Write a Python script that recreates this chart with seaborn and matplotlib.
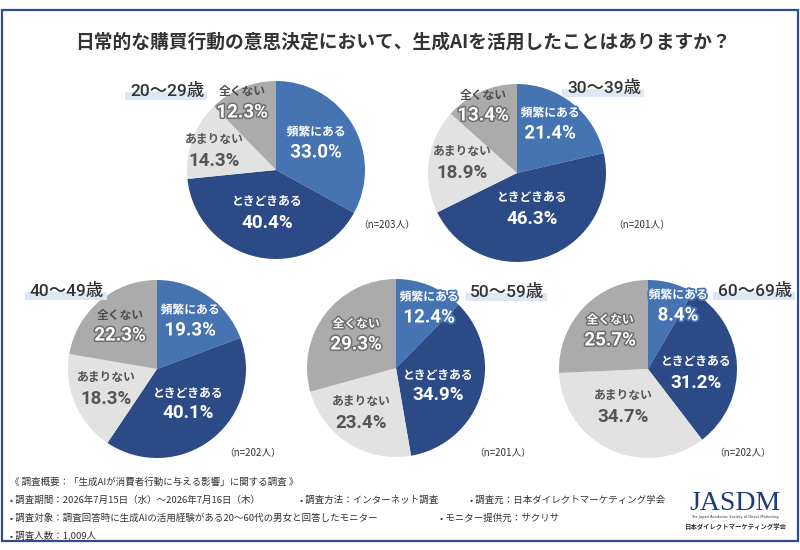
"""
Recreation of the JASDM survey chart: use of generative AI in everyday
purchase decisions, one pie per age group.
"""
import matplotlib
matplotlib.use("Agg")
import matplotlib.pyplot as plt
import matplotlib.patheffects as pe
from matplotlib.patches import Rectangle
import seaborn as sns

# ── Data ──────────────────────────────────────────────────────────────────────
AGE_GROUPS = ["20〜29歳", "30〜39歳", "40〜49歳", "50〜59歳", "60〜69歳"]
ANSWERS    = ["頻繁にある", "ときどきある", "あまりない", "全くない"]
FREQUENT   = [33.0, 21.4, 19.3, 12.4, 8.4]
SOMETIMES  = [40.4, 46.3, 40.1, 34.9, 31.2]
RARELY     = [14.3, 18.9, 18.3, 23.4, 34.7]
NEVER      = [12.3, 13.4, 22.3, 29.3, 25.7]
N_RESP     = [203, 201, 202, 201, 202]

TITLE = "日常的な購買行動の意思決定において、生成AIを活用したことはありますか？"
FOOTER_HEAD = "《 調査概要：「生成AIが消費者行動に与える影響」に関する調査 》"
FOOTER_ITEMS = [
    ["• 調査期間：2026年7月15日（水）〜2026年7月16日（木）",
     "• 調査方法：インターネット調査",
     "• 調査元：日本ダイレクトマーケティング学会"],
    ["• 調査対象：調査回答時に生成AIの活用経験がある20〜60代の男女と回答したモニター",
     "• モニター提供元：サクリサ"],
    ["• 調査人数：1,009人"],
]
LOGO_TEXT = "JASDM"
LOGO_SUB  = "The Japan Academic Society of Direct Marketing"
LOGO_JP   = "日本ダイレクトマーケティング学会"

# ── Layout (pixel coordinates, y measured from the top) ──────────────────────
W, H = 800, 550
PIE_CENTERS = [(276, 170), (517, 173), (157, 369), (396, 368), (648, 369)]
RADIUS = 89
# label block centre relative to the pie centre, one entry per answer
LABEL_OFFSETS = [
    [(40, -28), (-9, 42), (-62, -20), (-34, -68)],
    [(33, -50), (15, 35), (-55, -11), (-34, -68)],
    [(33, -49), (31, 34), (-51, 19), (-37, -44)],
    [(33, -61), (42, 17), (-35, 44), (-40, -34)],
    [(30, -64), (48, 3), (-25, 37), (-38, -39)],
]
AGE_LABEL_POS = [(130, 91), (567, 88), (30, 291), (470, 292), (718, 291)]
N_POS = [(387, 225), (642, 225), (253, 453), (503, 453), (743, 453)]
NEVER_NAME_OUTLINED = [False, False, False, True, True]

COLORS = sns.color_palette(["#4674b3", "#2c4a86", "#e2e2e2", "#ababab"])
JP = ["Noto Sans CJK JP", "DejaVu Sans"]
NUM = ["Roboto", "Noto Sans CJK JP", "DejaVu Sans"]


def Y(py):
    return H - py


sns.set_theme(style="white")
plt.rcParams["font.family"] = JP

fig = plt.figure(figsize=(W / 100, H / 100), dpi=100)
ax = fig.add_axes([0, 0, 1, 1])

series = list(zip(FREQUENT, SOMETIMES, RARELY, NEVER))

for i, values in enumerate(series):
    cx, cy = PIE_CENTERS[i]
    ax.pie(values, colors=COLORS, startangle=90, counterclock=False,
           center=(cx, Y(cy)), radius=RADIUS,
           wedgeprops=dict(linewidth=0), frame=True)

    for j, (name, val) in enumerate(zip(ANSWERS, values)):
        dx, dy = LABEL_OFFSETS[i][j]
        lx, ly = cx + dx, cy + dy
        name_kw = dict(color="white")
        pct_kw = dict(color="white")
        if j == 0:
            stroke = [pe.withStroke(linewidth=2.5, foreground=COLORS[0])]
            name_kw["path_effects"] = stroke
            pct_kw["path_effects"] = stroke
        elif j == 2:
            name_kw["color"] = pct_kw["color"] = "#555555"
        elif j == 3:
            stroke = [pe.withStroke(linewidth=2.2, foreground="#6e6e6e")]
            pct_kw["path_effects"] = stroke
            if NEVER_NAME_OUTLINED[i]:
                name_kw["path_effects"] = stroke
            else:
                name_kw["color"] = "#4d4d4d"
        ax.text(lx, Y(ly - 10), name, ha="center", va="center",
                fontsize=8.5, fontweight="bold", family=JP, **name_kw)
        ax.text(lx, Y(ly + 10.5), f"{val:.1f}%", ha="center", va="center",
                fontsize=13.5, fontweight="bold", family=NUM, **pct_kw)

    # age group caption with its light highlight bar
    tx, ty = AGE_LABEL_POS[i]
    ax.add_patch(Rectangle((tx - 5, Y(ty + 9)), 82, 8, color="#dce8f3",
                           linewidth=0, zorder=1))
    ax.text(tx, Y(ty), AGE_GROUPS[i], ha="left", va="center", fontsize=12.5,
            fontweight="medium", color="#333333", family=NUM, zorder=2)

    nx, ny = N_POS[i]
    ax.text(nx, Y(ny), f"（n={N_RESP[i]}人）", ha="center", va="center",
            fontsize=7, color="#333333", family=JP)

# title
ax.text(403, Y(42), TITLE, ha="center", va="center", fontsize=13.5,
        fontweight="bold", color="#333333", family=JP)

# footer
ax.text(10, Y(482), FOOTER_HEAD, ha="left", va="center", fontsize=6.8,
        color="#333333", family=JP)
footer_x = [[10, 300, 470], [10, 440], [10]]
footer_y = [500, 518, 535]
for row, xs, fy in zip(FOOTER_ITEMS, footer_x, footer_y):
    for txt, fx in zip(row, xs):
        ax.text(fx, Y(fy), txt, ha="left", va="center", fontsize=6.8,
                color="#333333", family=JP)

# logo
ax.text(735, Y(503), LOGO_TEXT, ha="center", va="center", fontsize=20,
        color="#1d3b7c", family=["Liberation Serif", "DejaVu Serif"])
ax.text(735, Y(517), LOGO_SUB, ha="center", va="center", fontsize=2.6,
        color="#333333", family=["DejaVu Sans"])
ax.text(735, Y(526), LOGO_JP, ha="center", va="center", fontsize=4.6,
        fontweight="bold", color="#333333", family=JP)

# outer frame
ax.add_patch(Rectangle((2, Y(541)), 796, 531, fill=False,
                       edgecolor="#2f4d8a", linewidth=1.6, zorder=5))

ax.set_xlim(0, W)
ax.set_ylim(0, H)
ax.set_aspect("equal")
ax.axis("off")

fig.savefig("out.png", dpi=100)
plt.close(fig)
